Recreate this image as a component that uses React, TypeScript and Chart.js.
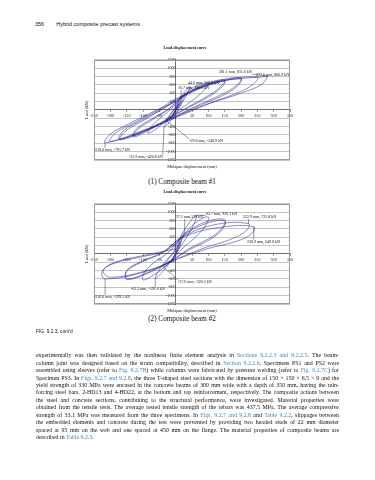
import React, { useEffect, useRef } from "react";
import { Chart, registerables } from "chart.js";

Chart.register(...registerables);

// ---------- data ----------
const xTickValues = [-250, -200, -150, -100, -50, 0, 50, 100, 150, 200, 250, 300, 350];
const yTickValues = [-1200, -1000, -800, -600, -400, -200, 0, 200, 400, 600, 800, 1000, 1200];

// Composite beam #1 : midspan displacement (mm) / load (kN), cycle by cycle
const beam1Disp = [
  0, 6, 10, 6, 0, -6, -10, -5, 0,
  9, 16.7, 10, 0, -8, -15, -8, 0,
  12, 25, 30, 20, 5, -10, -29.8, -18, -5,
  15, 35, 44.6, 35, 18, 0, -20, -35.9, -25, -10, 5,
  30, 65, 100, 90, 60, 20, -20, -55, -85, -75, -45, -10,
  30, 90, 150, 135, 95, 40, -20, -80, -130, -115, -70, -20,
  20, 90, 150, 138, 98, 40, -20, -80, -130, -118, -72, -20,
  30, 110, 200, 185, 135, 70, 0, -80, -170, -155, -100, -40,
  25, 110, 200, 188, 140, 72, 0, -80, -172, -160, -105, -45,
  20, 120, 250, 235, 180, 100, 20, -70, -200, -185, -125, -60,
  10, 140, 277.6, 281.1, 265, 200, 110, 20, -80, -216, -200, -140, -70, 0,
];
const beam1Load = [
  0, 100, 150, 70, -10, -100, -150, -60, 10,
  130, 190.6, 90, -20, -120, -200, -90, 20,
  250, 350, 400, 220, 20, -130, -248.9, -110, 20,
  300, 500, 559.8, 380, 150, -100, -300, -420.8, -250, -50, 100,
  400, 580, 650, 500, 280, 50, -200, -430, -560, -400, -180, 50,
  380, 620, 720, 540, 320, 80, -200, -480, -650, -460, -230, 30,
  330, 580, 690, 520, 300, 60, -190, -450, -620, -440, -210, 30,
  360, 650, 770, 580, 350, 120, -150, -460, -720, -520, -260, 20,
  320, 620, 740, 560, 330, 100, -160, -450, -700, -500, -250, 0,
  330, 660, 790, 600, 380, 150, -120, -420, -760, -560, -300, -30,
  300, 680, 800.9, 811.6, 620, 400, 170, -100, -430, -791.7, -580, -320, -50, 200,
];

// Composite beam #2
const beam2Disp = [
  0, 8, 15, 9, 0, -8, -15, -8, 0,
  12, 27.5, 18, 5, -12, -37.6, -25, -8,
  15, 45, 63.7, 55, 35, 10, -20, -45, -62.5, -50, -25, 0,
  30, 70, 100, 90, 60, 20, -25, -70, -100, -95, -65, -20,
  25, 90, 150, 140, 100, 40, -20, -90, -150, -150, -105, -40,
  20, 90, 150, 142, 104, 42, -20, -90, -148, -150, -108, -42,
  20, 120, 222.9, 215, 165, 90, 10, -90, -216, -225, -190, -110, -30,
  30, 140, 238.9, 232, 185, 100, 20, -80, -200, -222, -185, -100, 0,
];
const beam2Load = [
  0, 180, 300, 140, -20, -130, -200, -80, 20,
  330, 528, 320, 60, -150, -320.5, -160, 20,
  420, 780, 926.1, 700, 420, 120, -230, -470, -591, -380, -120, 100,
  500, 800, 880, 660, 400, 120, -250, -520, -620, -430, -200, 50,
  450, 760, 820, 600, 360, 120, -200, -480, -610, -420, -200, 30,
  420, 720, 790, 580, 340, 100, -190, -460, -590, -400, -190, 30,
  400, 700, 725.8, 550, 340, 150, -100, -420, -599.2, -420, -230, -80, 80,
  420, 640, 649.8, 480, 300, 130, -80, -380, -560, -400, -200, -40, 120,
];

// labelled points: text, displacement, load
const beam1Notes = [
  { text: "281.1 mm, 811.6 kN", d: 281.1, p: 811.6 },
  { text: "277.6 mm, 800.9 kN", d: 277.6, p: 800.9 },
  { text: "44.6 mm, 559.8 kN", d: 44.6, p: 559.8 },
  { text: "16.7 mm, 190.6 kN", d: 16.7, p: 190.6 },
  { text: "-29.8 mm, -248.9 kN", d: -29.8, p: -248.9 },
  { text: "-216.0 mm, -791.7 kN", d: -216, p: -791.7 },
  { text: "-35.9 mm, -420.8 kN", d: -35.9, p: -420.8 },
];
const beam2Notes = [
  { text: "63.7 mm, 926.1 kN", d: 63.7, p: 926.1 },
  { text: "27.5 mm,528 kN", d: 27.5, p: 528 },
  { text: "222.9 mm, 725.8 kN", d: 222.9, p: 725.8 },
  { text: "238.9 mm, 649.8 kN", d: 238.9, p: 649.8 },
  { text: "-37.6 mm, -320.5 kN", d: -37.6, p: -320.5 },
  { text: "-62.5 mm, -591.0 kN", d: -62.5, p: -591 },
  { text: "-216.0 mm, -599.2 kN", d: -216, p: -599.2 },
];

// ---------- layout of the label boxes (axis units) ----------
const beam1NotePos = [
  [132, 912], [246, 840], [38, 648], [7, 528], [41, -744], [-250, -960], [-143, -1128],
];
const beam2NotePos = [
  [93, 960], [1, 888], [206, 888], [218, 288], [7, -672], [-137, -840], [-250, -1032],
];

const SERIF = "'Liberation Serif', 'Times New Roman', serif";
const SANS = "'Liberation Sans', Arial, sans-serif";

function makeNotesPlugin(notes: any[], pos: number[][]) {
  return {
    id: "notes",
    afterDatasetsDraw(chart: any) {
      const { ctx } = chart;
      const x = chart.scales.x;
      const y = chart.scales.y;
      ctx.save();
      ctx.font = `4px ${SERIF}`;
      ctx.textBaseline = "middle";
      ctx.textAlign = "left";
      ctx.fillStyle = "#111";
      ctx.strokeStyle = "#333";
      ctx.lineWidth = 0.5;
      notes.forEach((n, i) => {
        const lx = x.getPixelForValue(pos[i][0]);
        const ly = y.getPixelForValue(pos[i][1]);
        const w = ctx.measureText(n.text).width;
        const h = 4.4;
        const tx = x.getPixelForValue(n.d);
        const ty = y.getPixelForValue(n.p);
        const ax = Math.min(Math.max(tx, lx), lx + w);
        const ay = Math.min(Math.max(ty, ly - h / 2), ly + h / 2);
        if (Math.hypot(ax - tx, ay - ty) > 2) {
          ctx.beginPath();
          ctx.moveTo(ax, ay);
          ctx.lineTo(tx, ty);
          ctx.stroke();
        }
        ctx.fillText(n.text, lx, ly);
      });
      ctx.restore();
    },
  };
}

const framePlugin = {
  id: "frame",
  beforeDatasetsDraw(chart: any) {
    const { ctx, chartArea: a } = chart;
    ctx.save();
    ctx.strokeStyle = "#9c9c9c";
    ctx.lineWidth = 1;
    ctx.strokeRect(Math.round(a.left) + 0.5, Math.round(a.top) + 0.5, Math.round(a.width) - 1, Math.round(a.height) - 1);
    ctx.restore();
  },
};

function HysteresisChart({ disp, load, notes, notePos, left, top }: any) {
  const ref = useRef<HTMLCanvasElement | null>(null);
  useEffect(() => {
    if (!ref.current) return;
    const points = disp.map((d: number, i: number) => ({ x: d, y: load[i] }));
    const tickFont = { family: SERIF, size: 4.2 };
    const chart = new Chart(ref.current, {
      type: "scatter",
      data: {
        datasets: [
          {
            data: points,
            showLine: true,
            borderColor: "rgba(28,28,145,0.85)",
            borderWidth: 0.6,
            pointRadius: 0,
            tension: 0.4,
            fill: false,
          } as any,
        ],
      },
      options: {
        animation: false,
        responsive: false,
        maintainAspectRatio: false,
        events: [],
        layout: { padding: { left: 10, right: 20, top: 0, bottom: 2 } },
        plugins: {
          legend: { display: false },
          tooltip: { enabled: false },
          title: {
            display: true,
            text: "Load-displacement curve",
            color: "#111",
            font: { family: SERIF, size: 4, weight: "bold" },
            padding: { top: 6, bottom: 9 },
          },
        },
        scales: {
          x: {
            type: "linear",
            min: -250,
            max: 350,
            position: { y: 0 } as any,
            afterBuildTicks: (s: any) => {
              s.ticks = xTickValues.map((v) => ({ value: v }));
            },
            ticks: {
              font: tickFont,
              color: "#222",
              padding: 1,
              autoSkip: false,
              maxRotation: 0,
              callback: (v: any) => (Number(v) === 0 ? "" : String(v)),
            },
            grid: { display: true, drawOnChartArea: false, tickLength: 2, color: "#555", lineWidth: 0.6 },
            border: { display: true, color: "#555", width: 0.8 },
          },
          y: {
            type: "linear",
            min: -1200,
            max: 1200,
            position: { x: 0 } as any,
            afterBuildTicks: (s: any) => {
              s.ticks = yTickValues.map((v) => ({ value: v }));
            },
            ticks: {
              font: tickFont,
              color: "#222",
              padding: 1,
              autoSkip: false,
              callback: (v: any) => (Number(v) === 0 ? "" : String(v)),
            },
            grid: { display: true, color: "#c4c4c4", lineWidth: 1, tickLength: 2 },
            border: { display: true, color: "#555", width: 0.8 },
          },
          xt: {
            type: "linear",
            position: "bottom",
            ticks: { display: false },
            grid: { display: false },
            border: { display: false },
            title: {
              display: true,
              text: "Midspan displacement (mm)",
              color: "#111",
              font: { family: SERIF, size: 4.3 },
              padding: { top: 0, bottom: 2 },
            },
            afterFit: (s: any) => {
              s.height = 11;
            },
          },
          yt: {
            type: "linear",
            position: "left",
            ticks: { display: false },
            grid: { display: false },
            border: { display: false },
            title: {
              display: true,
              text: "Load (kN)",
              color: "#111",
              font: { family: SERIF, size: 4.3 },
              padding: { top: 4, bottom: 0 },
            },
            afterFit: (s: any) => {
              s.width = 14;
            },
          },
        } as any,
      },
      plugins: [framePlugin, makeNotesPlugin(notes, notePos)],
    });
    return () => chart.destroy();
  }, []);
  return (
    <canvas
      ref={ref}
      width={240}
      height={133}
      style={{ position: "absolute", left, top, width: 240, height: 133 }}
    />
  );
}

const linkColor = "#3d86c6";
const L = ({ children }: any) => <span style={{ color: linkColor }}>{children}</span>;

const bodyLines: any[] = [
  <>experimentally was then validated by the nonlinear finite element analysis in <L>Sections 9.2.2.3 and 9.2.2.5</L>. The beam-</>,
  <>column joint was designed based on the strain compatibility, described in <L>Section 9.2.2.6</L>. Specimens PS1 and PS2 were</>,
  <>assembled using sleeves (refer to <L>Fig. 9.2.7B</L>) while columns were fabricated by pressure welding (refer to <L>Fig. 9.2.7C</L>) for</>,
  <>Specimen PS3. In <L>Figs. 9.2.7 and 9.2.8</L>, the three T-shaped steel sections with the dimension of 150 × 150 × 6.5 × 9 and the</>,
  <>yield strength of 330 MPa were encased in the concrete beams of 300 mm wide with a depth of 350 mm, having the rein-</>,
  <>forcing steel bars, 2-HD13 and 4-HD22, at the bottom and top reinforcement, respectively. The composite actions between</>,
  <>the steel and concrete sections, contributing to the structural performance, were investigated. Material properties were</>,
  <>obtained from the tensile tests. The average tested tensile strength of the rebars was 437.5 MPa. The average compressive</>,
  <>strength of 33.1 MPa was measured from the three specimens. In <L>Figs. 9.2.7 and 9.2.8</L> and <L>Table 9.2.2</L>, slippages between</>,
  <>the embedded elements and concrete during the test were prevented by providing two headed studs of 22 mm diameter</>,
  <>spaced at 95 mm on the web and one spaced at 450 mm on the flange. The material properties of composite beams are</>,
  <>described in <L>Table 9.2.3</L>.</>,
];

export default function App() {
  return (
    <div style={{ position: "absolute", left: 0, top: 0, width: 375, height: 480, background: "#fff", overflow: "hidden", color: "#111" }}>
      <div style={{ position: "absolute", left: 35, top: 20, fontFamily: SANS, fontSize: 5.5, lineHeight: "8px", whiteSpace: "nowrap" }}>
        356<span style={{ display: "inline-block", width: 12 }} />Hybrid composite precast systems
      </div>

      <HysteresisChart disp={beam1Disp} load={beam1Load} notes={beam1Notes} notePos={beam1NotePos} left={70} top={40} />
      <div style={{ position: "absolute", left: 0, width: 364, top: 177, textAlign: "center", fontFamily: SERIF, fontSize: 7.2, lineHeight: "10px" }}>
        (1) Composite beam #1
      </div>

      <HysteresisChart disp={beam2Disp} load={beam2Load} notes={beam2Notes} notePos={beam2NotePos} left={70} top={184} />
      <div style={{ position: "absolute", left: 0, width: 364, top: 314, textAlign: "center", fontFamily: SERIF, fontSize: 7.2, lineHeight: "10px" }}>
        (2) Composite beam #2
      </div>

      <div style={{ position: "absolute", left: 36, top: 328, fontFamily: SANS, fontSize: 4.8, lineHeight: "8px", whiteSpace: "nowrap" }}>
        FIG. 9.2.3, cont'd
      </div>

      <div style={{ position: "absolute", left: 36, top: 352.3, width: 303, fontFamily: SERIF, fontSize: 5.9, lineHeight: "7.45px" }}>
        {bodyLines.map((ln, i) => (
          <div
            key={i}
            style={{
              height: 7.45,
              textAlign: i === bodyLines.length - 1 ? "left" : "justify",
              textAlignLast: i === bodyLines.length - 1 ? "left" : "justify",
              whiteSpace: "nowrap",
              overflow: "visible",
            } as any}
          >
            {ln}
          </div>
        ))}
      </div>
    </div>
  );
}
